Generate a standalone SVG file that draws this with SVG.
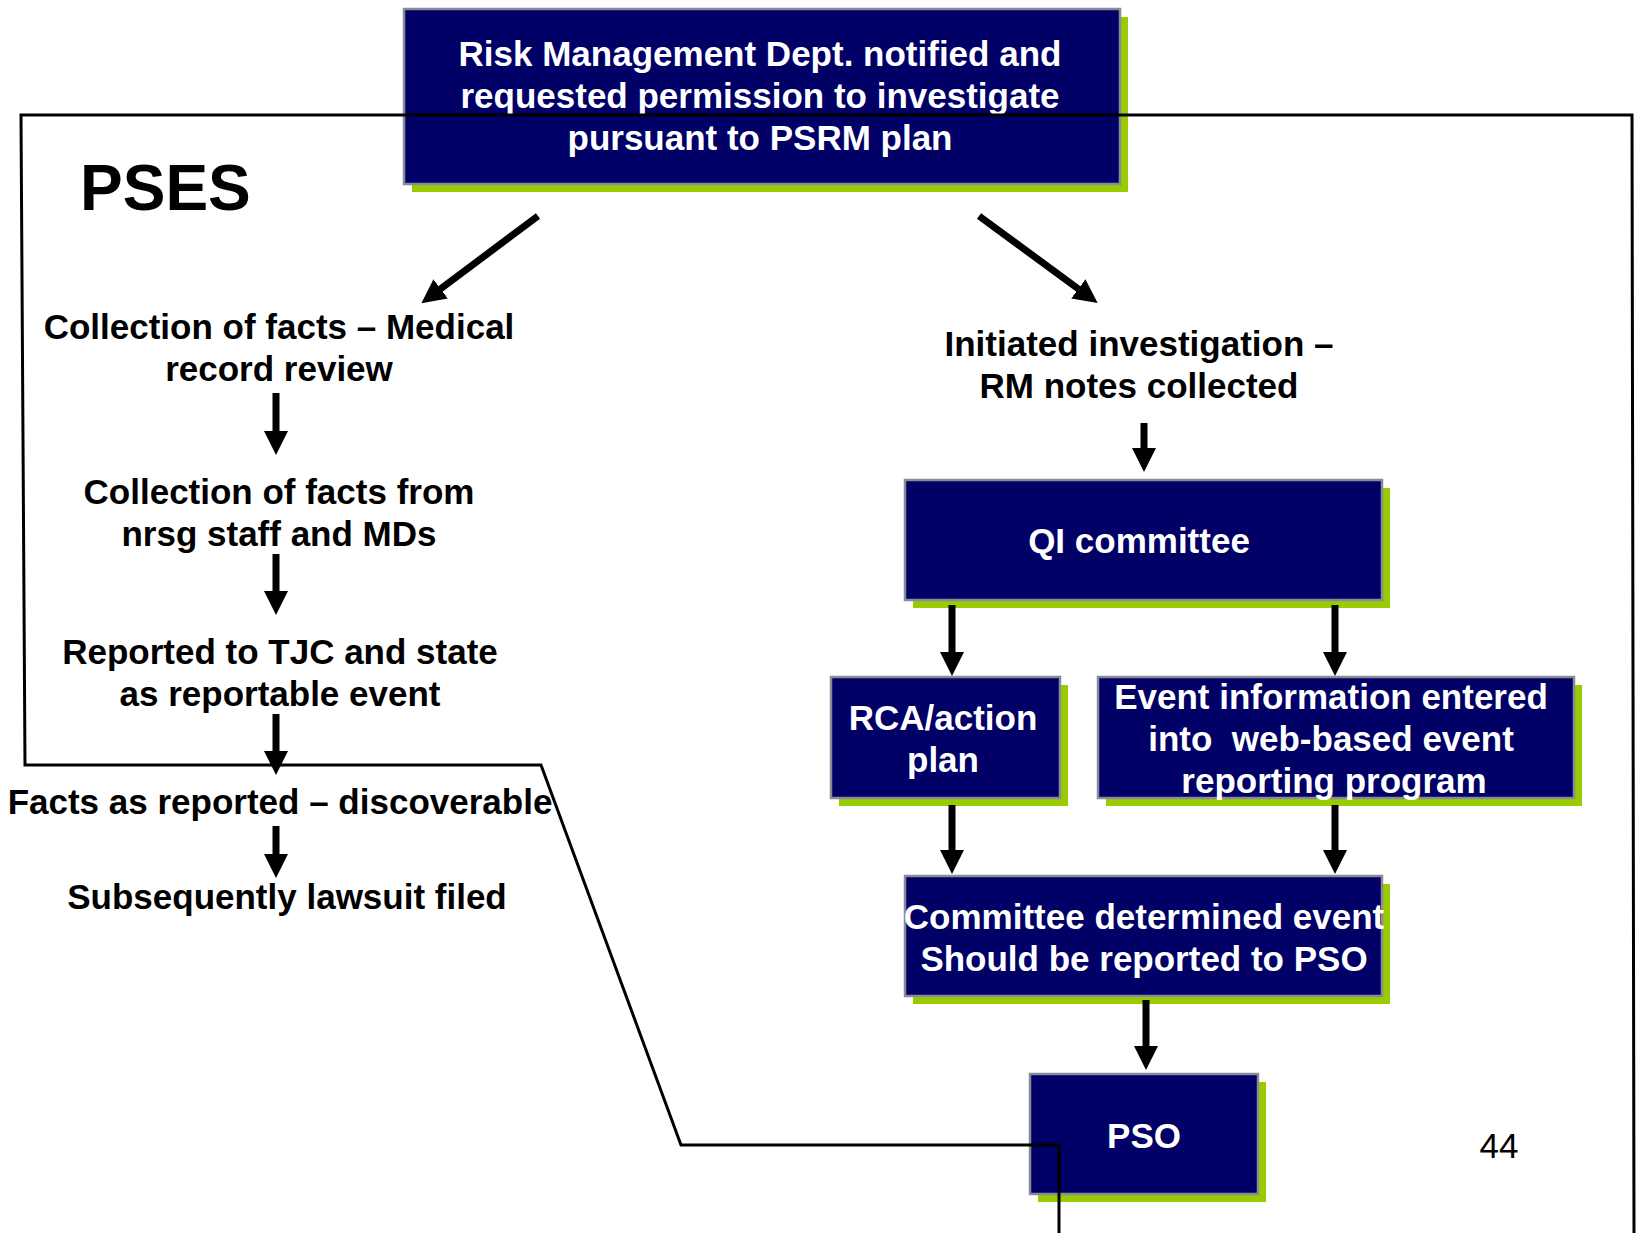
<svg xmlns="http://www.w3.org/2000/svg" width="1639" height="1233" viewBox="0 0 1639 1233">
<style>
.box{fill:#000066;stroke:#8a8a99;stroke-width:2.5}
.sh{fill:#99cc00}
.wt{fill:#ffffff;font-family:"Liberation Sans",Arial,sans-serif;font-weight:bold;font-size:35px;text-anchor:middle}
.bt{fill:#000000;font-family:"Liberation Sans",Arial,sans-serif;font-weight:bold;font-size:35px;text-anchor:middle}
.arr{stroke:#000;stroke-width:7;fill:none;marker-end:url(#ah)}
.outline{stroke:#000;stroke-width:3;fill:none}
</style>
<defs>
<marker id="ah" viewBox="0 0 24 24" refX="12" refY="12" markerWidth="24" markerHeight="24" markerUnits="userSpaceOnUse" orient="auto">
<path d="M0,0 L24,12 L0,24 z" fill="#000"/>
</marker>
</defs>
<rect width="1639" height="1233" fill="#fff"/>

<g id="title">
<text x="80" y="210" style="font-family:'Liberation Sans',Arial,sans-serif;font-weight:bold;font-size:64px;fill:#000">PSES</text>
</g>

<g id="n-risk">
<rect class="sh" x="412" y="17" width="716" height="175"/>
<rect class="box" x="404" y="9" width="716" height="175"/>
<text class="wt" x="760" y="66">Risk Management Dept. notified and</text>
<text class="wt" x="760" y="108">requested permission to investigate</text>
<text class="wt" x="760" y="150">pursuant to PSRM plan</text>
</g>

<g id="n-collect1"><text class="bt" x="279" y="339">Collection of facts – Medical</text><text class="bt" x="279" y="381">record review</text></g>
<g id="n-collect2"><text class="bt" x="279" y="504">Collection of facts from</text><text class="bt" x="279" y="546">nrsg staff and MDs</text></g>
<g id="n-reported"><text class="bt" x="280" y="664">Reported to TJC and state</text><text class="bt" x="280" y="706">as reportable event</text></g>
<g id="n-facts"><text class="bt" x="280" y="814">Facts as reported – discoverable</text></g>
<g id="n-lawsuit"><text class="bt" x="287" y="909">Subsequently lawsuit filed</text></g>

<g id="n-initiated"><text class="bt" x="1139" y="356">Initiated investigation –</text><text class="bt" x="1139" y="398">RM notes collected</text></g>

<g id="n-qi">
<rect class="sh" x="913" y="488" width="477" height="120"/>
<rect class="box" x="905" y="480" width="477" height="120"/>
<text class="wt" x="1139" y="553">QI committee</text>
</g>

<g id="n-rca">
<rect class="sh" x="839" y="685" width="229" height="121"/>
<rect class="box" x="831" y="677" width="229" height="121"/>
<text class="wt" x="943" y="730">RCA/action</text>
<text class="wt" x="943" y="772">plan</text>
</g>

<g id="n-event">
<rect class="sh" x="1106" y="685" width="476" height="121"/>
<rect class="box" x="1098" y="677" width="476" height="121"/>
<text class="wt" x="1331" y="709">Event information entered</text>
<text class="wt" x="1331" y="751" xml:space="preserve">into  web-based event</text>
<text class="wt" x="1334" y="793">reporting program</text>
</g>

<g id="n-committee">
<rect class="sh" x="913" y="884" width="477" height="120"/>
<rect class="box" x="905" y="876" width="477" height="120"/>
<text class="wt" x="1144" y="929">Committee determined event</text>
<text class="wt" x="1144" y="971">Should be reported to PSO</text>
</g>

<g id="n-pso">
<rect class="sh" x="1038" y="1082" width="228" height="120"/>
<rect class="box" x="1030" y="1074" width="228" height="120"/>
<text class="wt" x="1144" y="1148">PSO</text>
</g>

<g id="page-number"><text x="1499" y="1158" style="font-family:'Liberation Sans',Arial,sans-serif;font-size:35px;text-anchor:middle;fill:#000">44</text></g>

<g id="connectors">
<line class="arr" x1="538" y1="216" x2="431" y2="296"/>
<line class="arr" x1="979" y1="216" x2="1088" y2="296"/>
<line class="arr" x1="276" y1="393" x2="276" y2="443"/>
<line class="arr" x1="276" y1="554" x2="276" y2="603"/>
<line class="arr" x1="276" y1="714" x2="276" y2="763"/>
<line class="arr" x1="276" y1="826" x2="276" y2="866"/>
<line class="arr" x1="1144" y1="423" x2="1144" y2="460"/>
<line class="arr" x1="952" y1="605" x2="952" y2="664"/>
<line class="arr" x1="1335" y1="605" x2="1335" y2="664"/>
<line class="arr" x1="952" y1="805" x2="952" y2="862"/>
<line class="arr" x1="1335" y1="805" x2="1335" y2="862"/>
<line class="arr" x1="1146" y1="1000" x2="1146" y2="1058"/>
<path class="outline" d="M1059,1233 L1059,1145 L681,1145 L541,765 L25,765 L21,115 L1632,115 L1634,1233"/>
</g>
</svg>
